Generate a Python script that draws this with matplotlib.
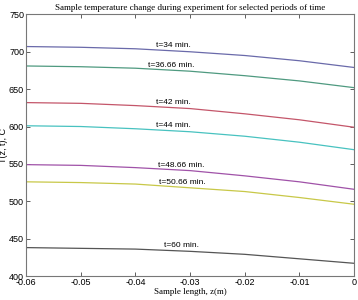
import numpy as np
import matplotlib
matplotlib.use('Agg')
import matplotlib.pyplot as plt

z = [-0.06, -0.05, -0.04, -0.03, -0.02, -0.01, 0.0]
labels = ['t=34 min.', 't=36.66 min.', 't=42 min.', 't=44 min.',
          't=48.66 min.', 't=50.66 min.', 't=60 min.']
temps = [
    [707, 706, 704, 700, 695, 688, 679],
    [681, 680, 678, 674, 668, 661, 652],
    [632, 631, 628, 624, 617, 609, 599],
    [601, 600, 597, 593, 587, 579, 569],
    [549, 548, 545, 541, 534, 526, 516],
    [526, 525, 523, 518, 513, 505, 496],
    [438, 437, 436, 433, 429, 423, 417],
]
colors = ['#6a6aaa', '#4f9a80', '#c4566a', '#48c2c0',
          '#a052a8', '#c8c848', '#555555']
label_x = [-0.0331, -0.0335, -0.0331, -0.0331, -0.0316, -0.0314, -0.0316]

fig = plt.figure(figsize=(3.58, 3.0), dpi=100)
ax = fig.add_axes([0.073, 0.08, 0.916, 0.872])

for t, c, lab, lx in zip(temps, colors, labels, label_x):
    ax.plot(z, t, color=c, lw=0.9)
    ly = np.interp(lx, z, t)
    ax.text(lx, ly + 2, lab, ha='center', va='bottom', fontsize=6,
            family='Liberation Sans')

ax.set_xlim(-0.06, 0)
ax.set_ylim(400, 750)
ax.set_xticks(np.arange(-0.06, 0.001, 0.01))
ax.set_xticklabels(['-0.06', '-0.05', '-0.04', '-0.03', '-0.02', '-0.01', '0'])
ax.set_yticks(np.arange(400, 751, 50))
ax.tick_params(direction='in', top=True, right=True, length=3, width=0.6,
               labelsize=6.5, pad=1.5, colors='#444444', labelcolor='black')
for lab in ax.get_xticklabels() + ax.get_yticklabels():
    lab.set_family('Liberation Sans')
for s in ax.spines.values():
    s.set_color('#777777')
    s.set_linewidth(0.8)

ax.set_title('Sample temperature change during experiment for selected periods of time',
             family='Liberation Serif', fontsize=6.5, pad=3)
ax.set_xlabel('Sample length, z(m)', family='Liberation Serif', fontsize=6.5, labelpad=1)
ax.set_ylabel('T(z, t), C', family='Liberation Sans', fontsize=6.5, labelpad=1)

fig.savefig('out.png', dpi=100)
